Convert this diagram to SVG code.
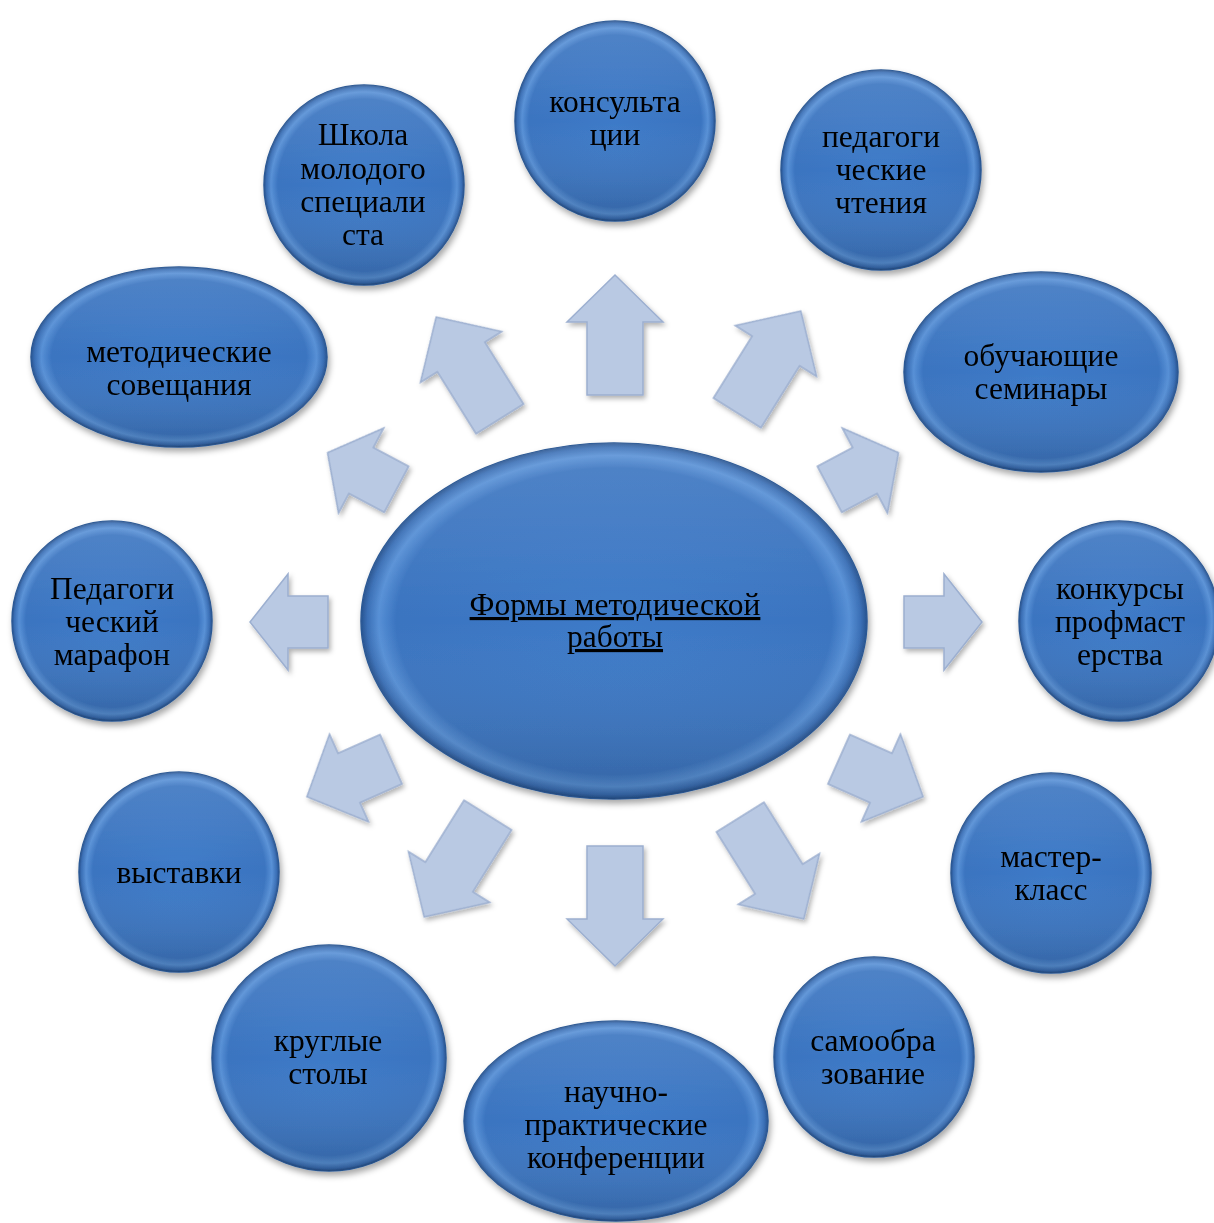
<svg xmlns="http://www.w3.org/2000/svg" width="1214" height="1223" viewBox="0 0 1214 1223">
<style>
.nb{fill:url(#rg);stroke:#2b5894;stroke-width:1.5}
.ov{fill:url(#lg);stroke:none}
.t{font-family:"Liberation Serif","Times New Roman",serif;font-size:31.5px;fill:#000;text-anchor:middle}
.ar{fill:#b9c9e3;stroke:#9cafd0;stroke-width:1.5;stroke-linejoin:miter}
</style>
<defs>
<radialGradient id="rg" cx="0.5" cy="0.5" r="0.5">
<stop offset="0" stop-color="#3d7ac8"/>
<stop offset="0.86" stop-color="#3a74c0"/>
<stop offset="0.93" stop-color="#5790d6"/>
<stop offset="0.975" stop-color="#3a6fb6"/>
<stop offset="1" stop-color="#275390"/>
</radialGradient>
<linearGradient id="lg" x1="0" y1="0" x2="0" y2="1">
<stop offset="0" stop-color="#ffffff" stop-opacity="0.12"/>
<stop offset="0.5" stop-color="#ffffff" stop-opacity="0"/>
<stop offset="1" stop-color="#000000" stop-opacity="0.15"/>
</linearGradient>
<filter id="sh" x="-20%" y="-20%" width="140%" height="140%">
<feDropShadow dx="2" dy="4" stdDeviation="3" flood-color="#000" flood-opacity="0.35"/>
</filter>
<filter id="ash" x="-30%" y="-30%" width="160%" height="160%">
<feDropShadow dx="2" dy="3" stdDeviation="2.5" flood-color="#000" flood-opacity="0.3"/>
</filter>
<path id="aL" class="ar" d="M-60,-28 H13 V-48 L60,0 L13,48 V28 H-60 Z"/>
<path id="aM" class="ar" d="M-46,-27 H0 V-48 L46,0 L0,48 V27 H-46 Z"/>
<path id="aS" class="ar" d="M-39,-26 H1 V-48 L39,0 L1,48 V26 H-39 Z"/>
</defs>
<rect width="1214" height="1223" fill="#ffffff"/>

<g id="connectors" filter="url(#ash)">
<use href="#aL" transform="translate(615,335) rotate(-90)"/>
<use href="#aL" transform="translate(769,362) rotate(-58)"/>
<use href="#aL" transform="translate(468,368) rotate(-122)"/>
<use href="#aS" transform="translate(864,471) rotate(-28)"/>
<use href="#aS" transform="translate(362,471) rotate(-152)"/>
<use href="#aS" transform="translate(289,622) rotate(180)"/>
<use href="#aS" transform="translate(943,622)"/>
<use href="#aM" transform="translate(881,778) rotate(24)"/>
<use href="#aM" transform="translate(349,778) rotate(156)"/>
<use href="#aL" transform="translate(772,868) rotate(58)"/>
<use href="#aL" transform="translate(456,866) rotate(122)"/>
<use href="#aL" transform="translate(615,906) rotate(90)"/>
</g>

<g id="center" filter="url(#sh)">
<ellipse class="nb" cx="614" cy="621" rx="253" ry="178"/>
<ellipse class="ov" cx="614" cy="621" rx="253" ry="178"/>
<text class="t" x="615" y="615" text-decoration="underline">Формы методической</text>
<text class="t" x="615" y="647" text-decoration="underline">работы</text>
</g>

<g id="n-konsult" filter="url(#sh)">
<circle class="nb" cx="615" cy="121" r="100"/>
<circle class="ov" cx="615" cy="121" r="100"/>
<text class="t" x="615" y="112">консульта</text>
<text class="t" x="615" y="145">ции</text>
</g>

<g id="n-chteniya" filter="url(#sh)">
<circle class="nb" cx="881" cy="170" r="100"/>
<circle class="ov" cx="881" cy="170" r="100"/>
<text class="t" x="881" y="147">педагоги</text>
<text class="t" x="881" y="180">ческие</text>
<text class="t" x="881" y="213">чтения</text>
</g>

<g id="n-seminary" filter="url(#sh)">
<ellipse class="nb" cx="1041" cy="372" rx="137" ry="100"/>
<ellipse class="ov" cx="1041" cy="372" rx="137" ry="100"/>
<text class="t" x="1041" y="366">обучающие</text>
<text class="t" x="1041" y="399">семинары</text>
</g>

<g id="n-konkursy" filter="url(#sh)">
<circle class="nb" cx="1119" cy="621" r="100"/>
<circle class="ov" cx="1119" cy="621" r="100"/>
<text class="t" x="1120" y="599">конкурсы</text>
<text class="t" x="1120" y="632">профмаст</text>
<text class="t" x="1120" y="665">ерства</text>
</g>

<g id="n-master" filter="url(#sh)">
<circle class="nb" cx="1051" cy="873" r="100"/>
<circle class="ov" cx="1051" cy="873" r="100"/>
<text class="t" x="1051" y="867">мастер-</text>
<text class="t" x="1051" y="900">класс</text>
</g>

<g id="n-samoobr" filter="url(#sh)">
<circle class="nb" cx="874" cy="1057" r="100"/>
<circle class="ov" cx="874" cy="1057" r="100"/>
<text class="t" x="873" y="1051">самообра</text>
<text class="t" x="873" y="1084">зование</text>
</g>

<g id="n-konf" filter="url(#sh)">
<ellipse class="nb" cx="616" cy="1121" rx="152" ry="100"/>
<ellipse class="ov" cx="616" cy="1121" rx="152" ry="100"/>
<text class="t" x="616" y="1102">научно-</text>
<text class="t" x="616" y="1135">практические</text>
<text class="t" x="616" y="1168">конференции</text>
</g>

<g id="n-stoly" filter="url(#sh)">
<ellipse class="nb" cx="329" cy="1058" rx="117" ry="113"/>
<ellipse class="ov" cx="329" cy="1058" rx="117" ry="113"/>
<text class="t" x="328" y="1051">круглые</text>
<text class="t" x="328" y="1084">столы</text>
</g>

<g id="n-vystavki" filter="url(#sh)">
<circle class="nb" cx="179" cy="872" r="100"/>
<circle class="ov" cx="179" cy="872" r="100"/>
<text class="t" x="179" y="883">выставки</text>
</g>

<g id="n-marafon" filter="url(#sh)">
<circle class="nb" cx="112" cy="621" r="100"/>
<circle class="ov" cx="112" cy="621" r="100"/>
<text class="t" x="112" y="599">Педагоги</text>
<text class="t" x="112" y="632">ческий</text>
<text class="t" x="112" y="665">марафон</text>
</g>

<g id="n-soveshch" filter="url(#sh)">
<ellipse class="nb" cx="179" cy="357" rx="148" ry="90"/>
<ellipse class="ov" cx="179" cy="357" rx="148" ry="90"/>
<text class="t" x="179" y="362">методические</text>
<text class="t" x="179" y="395">совещания</text>
</g>

<g id="n-shkola" filter="url(#sh)">
<circle class="nb" cx="364" cy="185" r="100"/>
<circle class="ov" cx="364" cy="185" r="100"/>
<text class="t" x="363" y="145">Школа</text>
<text class="t" x="363" y="179">молодого</text>
<text class="t" x="363" y="212">специали</text>
<text class="t" x="363" y="245">ста</text>
</g>
</svg>
